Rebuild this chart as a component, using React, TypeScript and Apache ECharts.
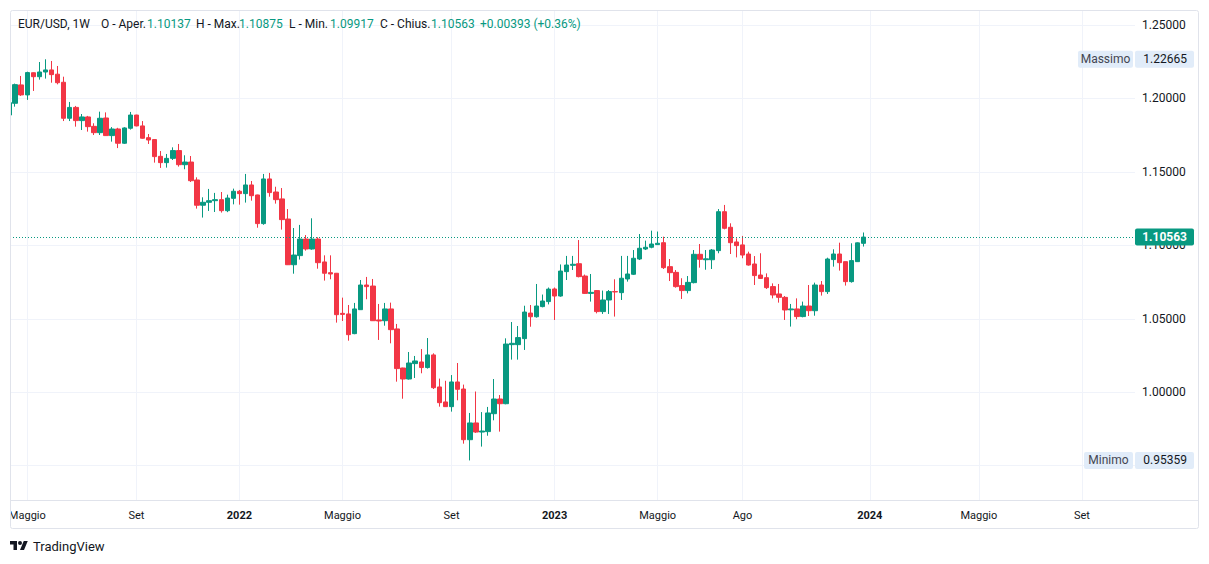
import React, { useEffect, useRef } from "react";
import * as echarts from "echarts";

// ---- Data (weekly EUR/USD candles, index 0 = week of 12 Apr 2021) ----
const symbolName = "EUR/USD, 1W";
const opens = [
  1.1887, 1.1967, 1.2092, 1.2024, 1.2175, 1.2148, 1.218, 1.2194, 1.2165, 1.211,
  1.1865, 1.1939, 1.1849, 1.1874, 1.181, 1.1767, 1.1867, 1.1747, 1.1792, 1.1695,
  1.1797, 1.1887, 1.1813, 1.1733, 1.172, 1.1606, 1.1563, 1.1592, 1.1645, 1.1549,
  1.1567, 1.1445, 1.1273, 1.1293, 1.1304, 1.1311, 1.1236, 1.132, 1.1368, 1.1352,
  1.1411, 1.1343, 1.1148, 1.1452, 1.1363, 1.1316, 1.1179, 1.0868, 1.093, 1.1043,
  1.0975, 1.1043, 1.0887, 1.0814, 1.081, 1.0537, 1.0533, 1.0399, 1.0562, 1.073,
  1.0723, 1.0492, 1.0487, 1.0567, 1.0431, 1.0165, 1.009, 1.0195, 1.0206, 1.0168,
  1.0254, 1.0036, 0.9934, 0.9902, 1.007, 1.0022, 0.9677, 0.9791, 0.9729, 0.9732,
  0.9854, 0.9954, 0.9922, 1.0324, 1.0324, 1.0365, 1.0539, 1.0514, 1.0583, 1.0617,
  1.0703, 1.0655, 1.0821, 1.0864, 1.0875, 1.0791, 1.0673, 1.0692, 1.0549, 1.0628,
  1.0685, 1.0678, 1.0771, 1.0803, 1.0907, 1.0975, 1.0987, 1.1005, 1.1018, 1.0855,
  1.0816, 1.0726, 1.0692, 1.0746, 1.0939, 1.0902, 1.0902, 1.0964, 1.1229, 1.1123,
  1.1023, 1.1003, 1.0941, 1.0873, 1.0798, 1.078, 1.0719, 1.0669, 1.0646, 1.0561,
  1.0567, 1.0515, 1.0587, 1.0555, 1.073, 1.0685, 1.0903, 1.0941, 1.0889, 1.0753,
  1.0889, 1.10137,
];
const highs = [
  1.1995, 1.2101, 1.2153, 1.2182, 1.2177, 1.2248, 1.22665, 1.2255, 1.2221, 1.2148,
  1.1976, 1.1949, 1.1894, 1.1881, 1.1831, 1.191, 1.1905, 1.1805, 1.18, 1.1804,
  1.1908, 1.1889, 1.1846, 1.1758, 1.1722, 1.1642, 1.1622, 1.1667, 1.169, 1.1613,
  1.1608, 1.1463, 1.1327, 1.1384, 1.1357, 1.1363, 1.1345, 1.1386, 1.1377, 1.1486,
  1.1438, 1.1345, 1.1486, 1.1493, 1.1399, 1.139, 1.1247, 1.1118, 1.1139, 1.107,
  1.1184, 1.1055, 1.0932, 1.0932, 1.0812, 1.0644, 1.0594, 1.0608, 1.0764, 1.0785,
  1.0771, 1.0601, 1.0608, 1.061, 1.0465, 1.0167, 1.0274, 1.0247, 1.0294, 1.0369,
  1.0265, 1.0093, 1.0078, 1.0117, 1.0199, 1.0052, 0.9859, 1.0005, 0.9865, 0.99,
  1.009, 0.9981, 1.0367, 1.0478, 1.0451, 1.0589, 1.0594, 1.0737, 1.0665, 1.0713,
  1.0713, 1.087, 1.0928, 1.0928, 1.1036, 1.0801, 1.0805, 1.0696, 1.0692, 1.0696,
  1.0769, 1.0928, 1.0928, 1.0968, 1.1077, 1.1032, 1.11, 1.1094, 1.1059, 1.0907,
  1.0832, 1.0776, 1.0791, 1.0968, 1.1009, 1.0968, 1.0975, 1.1247, 1.1275, 1.115,
  1.1048, 1.1064, 1.0957, 1.0927, 1.0946, 1.0809, 1.0741, 1.0737, 1.0655, 1.0601,
  1.0639, 1.0617, 1.073, 1.0746, 1.0757, 1.0916, 1.0973, 1.1018, 1.0889, 1.1014,
  1.102, 1.10875,
];
const lows = [
  1.1875, 1.1944, 1.2017, 1.199, 1.2051, 1.2128, 1.2135, 1.2107, 1.2096, 1.1846,
  1.1846, 1.1808, 1.1785, 1.1774, 1.1751, 1.1751, 1.1745, 1.1706, 1.1662, 1.169,
  1.1788, 1.181, 1.1726, 1.169, 1.1563, 1.1527, 1.1529, 1.1581, 1.1536, 1.1518,
  1.1431, 1.125, 1.1189, 1.1234, 1.1227, 1.1223, 1.1226, 1.1279, 1.1277, 1.1291,
  1.1304, 1.112, 1.114, 1.1331, 1.1284, 1.1107, 1.0866, 1.0807, 1.0903, 1.0964,
  1.097, 1.0841, 1.076, 1.0769, 1.0474, 1.0485, 1.0351, 1.0395, 1.056, 1.0633,
  1.0485, 1.0356, 1.0453, 1.0333, 1.0072, 0.9956, 1.0086, 1.0097, 1.0129, 1.0161,
  1.0022, 0.9902, 0.99, 0.9868, 0.9945, 0.965, 0.95359, 0.9723, 0.963, 0.9704,
  0.9809, 0.9732, 0.9918, 1.0222, 1.0222, 1.0288, 1.0446, 1.0508, 1.0578, 1.0598,
  1.0492, 1.065, 1.0764, 1.0832, 1.0782, 1.0669, 1.0617, 1.0537, 1.0533, 1.0533,
  1.0515, 1.0628, 1.0753, 1.0798, 1.09, 1.0968, 1.098, 1.1002, 1.0839, 1.0757,
  1.0712, 1.0635, 1.0673, 1.0741, 1.0848, 1.0834, 1.0839, 1.0946, 1.1109, 1.0941,
  1.0918, 1.0912, 1.0862, 1.073, 1.0771, 1.0703, 1.0639, 1.061, 1.0492, 1.0447,
  1.0497, 1.051, 1.0519, 1.0521, 1.0658, 1.0669, 1.0855, 1.0828, 1.0726, 1.0746,
  1.0889, 1.09917,
];
const closes = [
  1.1971, 1.2094, 1.2024, 1.2176, 1.2148, 1.218, 1.2194, 1.2162, 1.2107, 1.1865,
  1.1939, 1.1849, 1.1874, 1.1808, 1.1767, 1.1865, 1.1747, 1.1792, 1.1695, 1.1799,
  1.1887, 1.1813, 1.1729, 1.1717, 1.1604, 1.1563, 1.1592, 1.1645, 1.1549, 1.1567,
  1.144, 1.1273, 1.1293, 1.1304, 1.1311, 1.1236, 1.1322, 1.1368, 1.1352, 1.1411,
  1.1338, 1.1148, 1.1452, 1.1359, 1.1311, 1.1175, 1.0868, 1.0934, 1.1043, 1.0975,
  1.1043, 1.0882, 1.081, 1.0805, 1.0528, 1.053, 1.0392, 1.0567, 1.073, 1.0719,
  1.0487, 1.0485, 1.0567, 1.0426, 1.0161, 1.009, 1.0199, 1.0213, 1.0168, 1.0254,
  1.0031, 0.9929, 0.9902, 1.007, 1.002, 0.9677, 0.9791, 0.9729, 0.9736, 0.9859,
  0.9954, 0.9922, 1.0328, 1.0333, 1.0372, 1.0546, 1.0514, 1.0587, 1.0621, 1.0702,
  1.0655, 1.0825, 1.0866, 1.0871, 1.0787, 1.0673, 1.068, 1.0549, 1.0628, 1.0685,
  1.0683, 1.0776, 1.0805, 1.0912, 1.098, 1.0987, 1.1009, 1.1014, 1.0848, 1.0814,
  1.0719, 1.0692, 1.0748, 1.0939, 1.0905, 1.0908, 1.0968, 1.1229, 1.1116, 1.1018,
  1.0998, 1.0934, 1.0866, 1.0794, 1.0775, 1.0712, 1.0662, 1.0646, 1.056, 1.0567,
  1.0515, 1.0587, 1.0555, 1.073, 1.0685, 1.0907, 1.0941, 1.0882, 1.0753, 1.0896,
  1.1017, 1.10563,
];

// time-axis ticks (bar index -> label)
const timeTickIndex = [3, 21, 38, 55, 73, 90, 107, 121, 142, 160, 177];
const timeTickLabels = ["Maggio", "Set", "2022", "Maggio", "Set", "2023", "Maggio", "Ago", "2024", "Maggio", "Set"];
// price ticks
const priceGrid = [0.95, 1.0, 1.05, 1.1, 1.15, 1.2, 1.25];
const priceLabelTicks = [1.0, 1.05, 1.1, 1.15, 1.2, 1.25];

const UP = "#089981";
const DOWN = "#F23645";
const TEXT = "#131722";
const GRID = "#f0f3fa";
const BORDER = "#e0e3eb";
const FONT = "Roboto, 'Noto Sans', sans-serif";

// layout of the visible window
const X_MIN = 0.145;
const X_MAX = 185.76;
const Y_MIN = 0.92597;
const Y_MAX = 1.2602;

echarts.graphic.registerShape(
  "tvlogo",
  echarts.graphic.extendPath(
    "M14 22H7V11H0V4h14v18zM28 22h-8l7.5-18h8L28 22zM24 8a4 4 0 1 1-8 0a4 4 0 1 1 8 0z",
    {}
  )
);

export default function App() {
  const ref = useRef<HTMLDivElement>(null);

  useEffect(() => {
    document.body.style.margin = "0";
    if (!ref.current) return;
    const chart = echarts.init(ref.current, null, { renderer: "svg" });

    const candles = opens.map((o, i) => [i, o, closes[i], lows[i], highs[i]]);
    const n = opens.length;
    const lastO = opens[n - 1];
    const lastH = highs[n - 1];
    const lastL = lows[n - 1];
    const lastC = closes[n - 1];
    const prevC = closes[n - 2];
    const chg = lastC - prevC;
    const chgPct = (chg / prevC) * 100;
    const maxH = Math.max(...highs);
    const minL = Math.min(...lows);

    const labelFor = (v: number) => {
      const k = timeTickIndex.indexOf(Math.round(v));
      if (k < 0) return "";
      const t = timeTickLabels[k];
      return /^\d{4}$/.test(t) ? `{b|${t}}` : t;
    };

    chart.setOption({
      animation: false,
      backgroundColor: "#ffffff",
      grid: { left: 10, right: 74, top: 10, bottom: 63, containLabel: false },
      xAxis: {
        type: "value",
        min: X_MIN,
        max: X_MAX,
        axisLine: { show: false },
        axisTick: { show: false, customValues: timeTickIndex },
        splitLine: { show: true, lineStyle: { color: GRID, width: 1 } },
        axisLabel: {
          customValues: timeTickIndex,
          formatter: labelFor,
          color: TEXT,
          fontSize: 11,
          fontFamily: FONT,
          margin: 9,
          rich: { b: { fontWeight: "bold", fontSize: 11, fontFamily: FONT, color: TEXT } },
        },
      },
      yAxis: {
        type: "value",
        position: "right",
        min: Y_MIN,
        max: Y_MAX,
        axisLine: { show: false },
        axisTick: { show: false, customValues: priceGrid },
        splitLine: { show: true, lineStyle: { color: GRID, width: 1 } },
        axisLabel: {
          customValues: priceLabelTicks,
          formatter: (v: number) => v.toFixed(5),
          color: TEXT,
          fontSize: 12,
          fontFamily: FONT,
          margin: 7,
        },
      },
      series: [
        {
          type: "candlestick",
          data: candles,
          dimensions: ["x", "open", "close", "lowest", "highest"],
          encode: { x: "x", y: ["open", "close", "lowest", "highest"] },
          barWidth: 5,
          itemStyle: { color: UP, color0: DOWN, borderColor: UP, borderColor0: DOWN, borderWidth: 1 },
        },
      ],
    });

    const py = (v: number) => chart.convertToPixel({ yAxisIndex: 0 }, v) as number;
    const yC = py(lastC);
    const yMax = py(maxH);
    const yMin = py(minL);
    const f5 = (v: number) => v.toFixed(5);
    const sign = chg >= 0 ? "+" : "";
    const yLine = Math.round(yC) + 0.5;

    const txt = (text: string, x: number, y: number, fill: string, extra: any = {}) => ({
      type: "text",
      x,
      y,
      z: 100,
      silent: true,
      style: {
        text,
        fill,
        fontSize: 12,
        fontFamily: FONT,
        verticalAlign: "middle",
        align: "left",
        ...extra,
      },
    });
    const box = (x: number, yc: number, w: number, fill: string) => ({
      type: "rect",
      z: 99,
      silent: true,
      shape: { x, y: yc - 8.5, width: w, height: 17, r: 2 },
      style: { fill },
    });

    chart.setOption({
      graphic: [
        // mask left of plot + frame
        { type: "rect", z: 98, silent: true, shape: { x: 0, y: 0, width: 10, height: 564 }, style: { fill: "#fff" } },
        {
          type: "rect",
          z: 101,
          silent: true,
          shape: { x: 10.5, y: 10.5, width: 1188, height: 518, r: 2 },
          style: { fill: "none", stroke: BORDER, lineWidth: 1 },
        },
        {
          type: "line",
          z: 101,
          silent: true,
          shape: { x1: 10.5, y1: 500.5, x2: 1198.5, y2: 500.5 },
          style: { stroke: BORDER, lineWidth: 1 },
        },
        // last price dotted line
        {
          type: "line",
          z: 50,
          silent: true,
          shape: { x1: 10, y1: yLine, x2: 1135, y2: yLine },
          style: { stroke: UP, lineWidth: 1, lineDash: [1, 2] },
        },
        // header legend
        txt(symbolName, 18, 24, TEXT),
        txt("O - Aper.", 101, 24, TEXT),
        txt(f5(lastO), 147, 24, UP),
        txt("H - Max.", 196, 24, TEXT),
        txt(f5(lastH), 239, 24, UP),
        txt("L - Min.", 289, 24, TEXT),
        txt(f5(lastL), 330, 24, UP),
        txt("C - Chius.", 380, 24, TEXT),
        txt(f5(lastC), 431, 24, UP),
        txt(`${sign}${chg.toFixed(5)} (${sign}${chgPct.toFixed(2)}%)`, 480, 24, UP),
        // max label
        box(1078, yMax, 55, "#e1ecf9"),
        txt("Massimo", 1105.5, yMax, "#434651", { align: "center" }),
        box(1135, yMax, 59, "#e1ecf9"),
        txt(f5(maxH), 1187, yMax, TEXT, { align: "right" }),
        // min label
        box(1084, yMin, 49, "#e1ecf9"),
        txt("Minimo", 1108.5, yMin, "#434651", { align: "center" }),
        box(1135, yMin, 59, "#e1ecf9"),
        txt(f5(minL), 1187, yMin, TEXT, { align: "right" }),
        // last price label
        box(1135, yC, 59, UP),
        txt(f5(lastC), 1187, yC, "#ffffff", { align: "right", fontWeight: "bold" }),
        // footer logo
        {
          type: "tvlogo",
          x: 10,
          y: 539,
          scaleX: 0.5,
          scaleY: 0.5,
          z: 100,
          silent: true,
          style: { fill: TEXT },
        },
        txt("TradingView", 33, 546, TEXT, { fontSize: 13 }),
      ],
    });

    return () => chart.dispose();
  }, []);

  return <div ref={ref} style={{ width: 1209, height: 564 }} />;
}
